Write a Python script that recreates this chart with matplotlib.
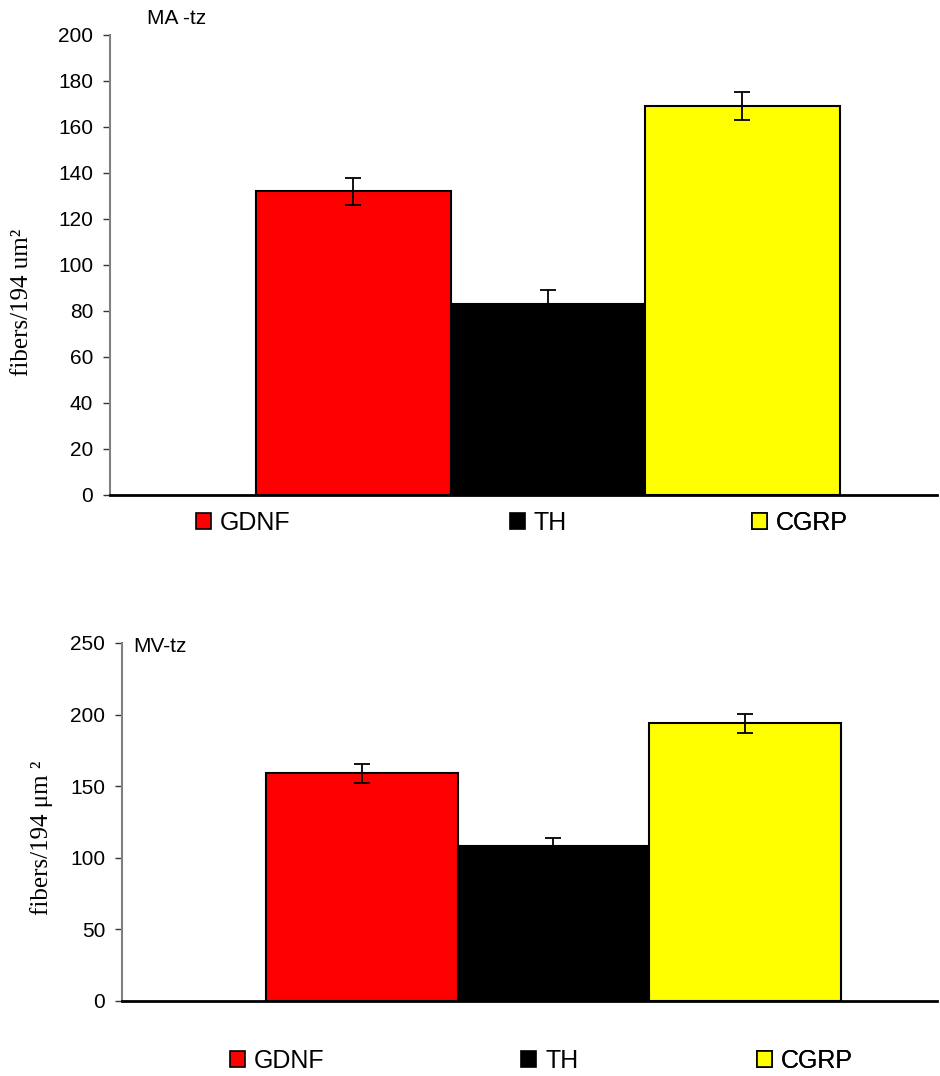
import matplotlib.pyplot as plt
from matplotlib.patches import Patch

# data
labels = ['GDNF', 'TH', 'CGRP']
colors = ['#ff0000', '#000000', '#ffff00']

ma_vals = [132, 83, 169]
ma_err = [6, 6, 6]

mv_vals = [159, 108, 194]
mv_err = [6.5, 5.5, 6.5]

plt.rcParams['font.family'] = ['Liberation Sans', 'DejaVu Sans']

fig = plt.figure(figsize=(9.4, 10.76), dpi=100)
W, H = 940, 1076


def px_axes(l, t, r, b):
    return fig.add_axes([l / W, 1 - b / H, (r - l) / W, (b - t) / H])


def style(ax, ymax, step):
    ax.set_xlim(-1.25, 3.0)
    ax.set_ylim(0, ymax)
    ax.set_yticks(range(0, ymax + 1, step))
    ax.set_xticks([])
    for s in ['top', 'right']:
        ax.spines[s].set_visible(False)
    ax.spines['left'].set_color('#808080')
    ax.spines['left'].set_linewidth(1.5)
    ax.spines['bottom'].set_linewidth(2)
    ax.tick_params(axis='y', labelsize=15, length=5, width=1, color='#333333', pad=7)


def legend_row(ax, xs, yc):
    for lab, col, x in zip(labels, colors, xs):
        h = Patch(facecolor=col, edgecolor='black', linewidth=1.2)
        leg = ax.legend([h], [lab], loc='center left', bbox_to_anchor=(x / W, 1 - yc / H),
                        bbox_transform=fig.transFigure, frameon=False,
                        handlelength=0.6, handleheight=0.6, handletextpad=0.36,
                        borderpad=0, borderaxespad=0, fontsize=18)
        ax.add_artist(leg)


# --- horni graf: MA-tz ---
ax1 = px_axes(110, 35, 937, 495)
ax1.bar(range(3), ma_vals, width=1.0, color=colors, edgecolor='black', linewidth=1.5,
        yerr=ma_err, capsize=6, error_kw=dict(elinewidth=1.3, capthick=1.3, ecolor='black'))
style(ax1, 200, 20)
ax1.set_ylabel('fibers/194 um²', family=['Liberation Serif', 'DejaVu Serif'], fontsize=18)
ax1.yaxis.set_label_coords(33 / W, 1 - 302 / H, transform=fig.transFigure)
fig.text(147 / W, 1 - 19 / H, 'MA -tz', fontsize=15, va='center', ha='left')
legend_row(ax1, [196, 510, 752], 523)

# --- dolni graf: MV-tz ---
ax2 = px_axes(122, 643, 937, 1001)
ax2.bar(range(3), mv_vals, width=1.0, color=colors, edgecolor='black', linewidth=1.5,
        yerr=mv_err, capsize=6, error_kw=dict(elinewidth=1.3, capthick=1.3, ecolor='black'))
style(ax2, 250, 50)
ax2.set_ylabel('fibers/194 \u03bcm \u00b2', family=['Liberation Serif', 'DejaVu Serif'], fontsize=18)
ax2.yaxis.set_label_coords(53 / W, 1 - 838 / H, transform=fig.transFigure)
fig.text(133 / W, 1 - 647 / H, 'MV-tz', fontsize=15, va='center', ha='left')
legend_row(ax2, [230, 521, 757], 1061)

fig.savefig('out.png', dpi=100)
